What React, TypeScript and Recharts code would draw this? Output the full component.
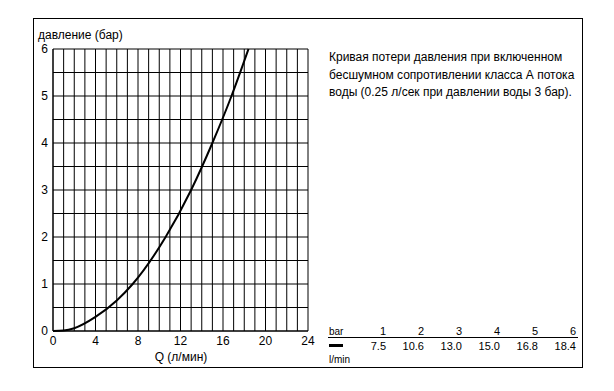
import { LineChart, Line, XAxis, YAxis, CartesianGrid } from 'recharts'

// flow Q (l/min) vs pressure drop (bar)
const flow     = [0, 1, 2, 4, 6, 7.5, 10.6, 13.0, 15.0, 16.8, 18.4]
const pressure = [0, 0.01, 0.06, 0.3, 0.65, 1, 2, 3, 4, 5, 6]

const xTicks = Array.from({ length: 25 }, (_, i) => i)
const yTicks = Array.from({ length: 13 }, (_, i) => i / 2)

const tableBar  = ['1', '2', '3', '4', '5', '6']
const tableFlow = ['7.5', '10.6', '13.0', '15.0', '16.8', '18.4']

const data = flow.map((q, i) => ({ q, p: pressure[i] }))

const FONT = '"Liberation Sans", Arial, sans-serif'
const INK  = '#000'

const colRight = [386, 424, 462, 500, 538, 576]

export default function App() {
  return (
    <div style={{ position: 'absolute', left: 0, top: 0, width: 614, height: 391, background: '#fff', fontFamily: FONT, color: INK }}>
      <div style={{ position: 'absolute', left: 33, top: 18, width: 548, height: 348, border: '1px solid #000' }} />

      <div style={{ position: 'absolute', left: 38, top: 28, fontSize: 12 }}>давление (бар)</div>

      <div style={{ position: 'absolute', left: 0, top: 0 }}>
        <LineChart
          width={614}
          height={391}
          data={data}
          margin={{ top: 49, right: 306, left: 33, bottom: 30 }}
          style={{ fontFamily: FONT }}
        >
          <CartesianGrid stroke={INK} strokeOpacity={1} />
          <XAxis
            dataKey="q"
            type="number"
            domain={[0, 24]}
            ticks={xTicks}
            interval={0}
            tickFormatter={(v) => (v % 4 === 0 ? String(v) : '')}
            tick={{ fill: INK, fontSize: 12 }}
            tickLine={false}
            tickSize={3}
            axisLine={{ stroke: INK }}
            height={30}
          />
          <YAxis
            type="number"
            domain={[0, 6]}
            ticks={yTicks}
            interval={0}
            tickFormatter={(v) => (Number.isInteger(v) ? String(v) : '')}
            tick={{ fill: INK, fontSize: 12 }}
            tickLine={false}
            tickSize={3}
            axisLine={{ stroke: INK }}
            width={20}
          />
          <Line
            type="monotone"
            dataKey="p"
            stroke={INK}
            strokeWidth={2}
            dot={false}
            isAnimationActive={false}
          />
        </LineChart>
      </div>

      <div style={{ position: 'absolute', left: 0, width: 362, top: 350, textAlign: 'center', fontSize: 12 }}>Q (л/мин)</div>

      <div style={{ position: 'absolute', left: 329, top: 49, fontSize: 12, lineHeight: '17.5px' }}>
        Кривая потери давления при включенном<br />
        бесшумном сопротивлении класса А потока<br />
        воды (0.25 л/сек при давлении воды 3 бар).
      </div>

      <div style={{ position: 'absolute', left: 329, top: 326, fontSize: 10 }}>bar</div>
      <div style={{ position: 'absolute', left: 328, top: 337, width: 250, height: 1, background: INK }} />
      <div style={{ position: 'absolute', left: 329, top: 344, width: 14, height: 3, background: INK }} />
      <div style={{ position: 'absolute', left: 329, top: 354, fontSize: 10 }}>l/min</div>
      {tableBar.map((t, i) => (
        <div key={'b' + t} style={{ position: 'absolute', left: colRight[i] - 40, width: 40, top: 325, textAlign: 'right', fontSize: 11 }}>{t}</div>
      ))}
      {tableFlow.map((t, i) => (
        <div key={'f' + t} style={{ position: 'absolute', left: colRight[i] - 40, width: 40, top: 340, textAlign: 'right', fontSize: 11 }}>{t}</div>
      ))}
    </div>
  )
}
